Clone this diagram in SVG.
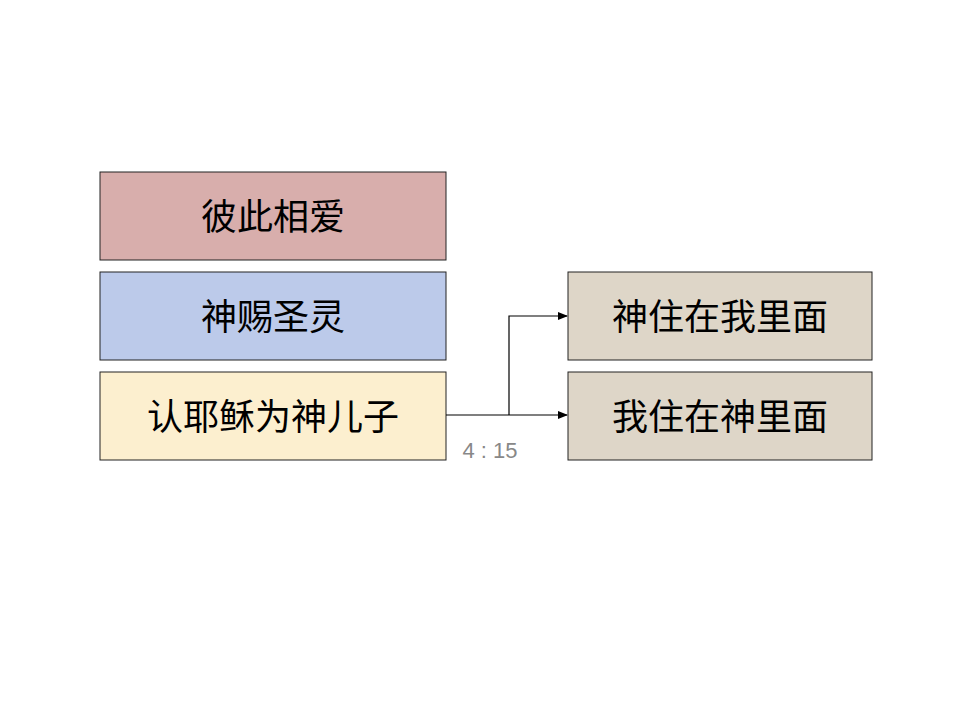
<svg xmlns="http://www.w3.org/2000/svg" width="960" height="720" viewBox="0 0 960 720">
<style>
.b{stroke:#222;stroke-width:1}
.t{font-family:"Liberation Sans","Noto Sans CJK SC",sans-serif;font-size:36px;fill:#000;text-anchor:middle;dominant-baseline:central}
.c{fill:none;stroke:#000;stroke-width:1.2}
</style>
<defs><marker id="a" markerWidth="10" markerHeight="8" refX="9" refY="4" orient="auto" markerUnits="userSpaceOnUse"><path d="M0,0L10,4L0,8z" fill="#000"/></marker></defs>
<rect width="960" height="720" fill="#fff"/>
<g id="n1"><rect class="b" x="100" y="172" width="346" height="88" fill="#d8aeac"/><text class="t" x="273" y="217">彼此相爱</text></g>
<g id="n2"><rect class="b" x="100" y="272" width="346" height="88" fill="#bccaea"/><text class="t" x="273" y="317">神赐圣灵</text></g>
<g id="n3"><rect class="b" x="100" y="372" width="346" height="88" fill="#fcefcf"/><text class="t" x="273" y="417">认耶稣为神儿子</text></g>
<g id="n4"><rect class="b" x="568" y="272" width="304" height="88" fill="#ded6c8"/><text class="t" x="720" y="317">神住在我里面</text></g>
<g id="n5"><rect class="b" x="568" y="372" width="304" height="88" fill="#ded6c8"/><text class="t" x="720" y="417">我住在神里面</text></g>
<g id="connectors">
<path class="c" d="M446,415H567" marker-end="url(#a)"/>
<path class="c" d="M509,415V316H567" marker-end="url(#a)"/>
<text x="490" y="458" font-family="Liberation Sans,sans-serif" font-size="22" fill="#888" text-anchor="middle">4 : 15</text>
</g>
</svg>
